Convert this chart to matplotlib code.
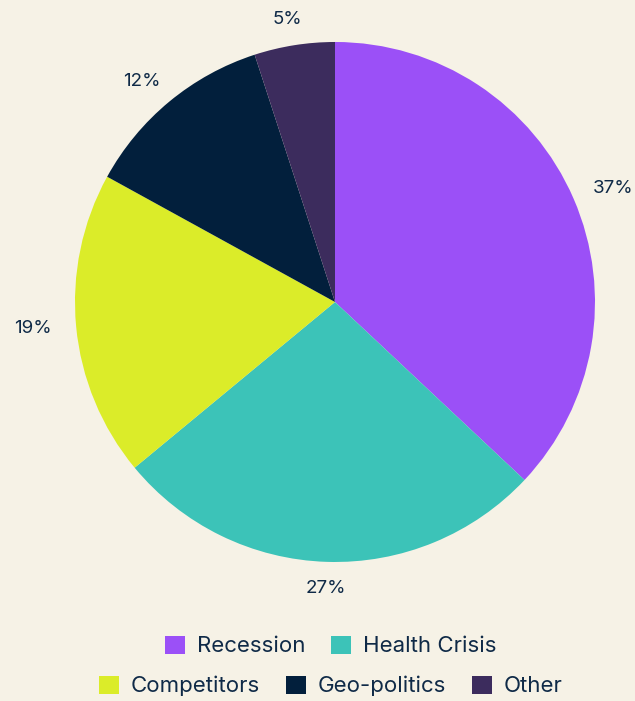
import numpy as np
import matplotlib.pyplot as plt
from matplotlib.patches import Patch

labels = ['Recession', 'Health Crisis', 'Competitors', 'Geo-politics', 'Other']
values = [37, 27, 19, 12, 5]
colors = ['#9b50f7', '#3cc3b8', '#dbec29', '#021f3c', '#3c2c5d']

bg = '#f6f2e6'
txt = '#0f2a47'
plt.rcParams['font.family'] = ['Inter', 'DejaVu Sans']

fig = plt.figure(figsize=(6.35, 7.01), dpi=100, facecolor=bg)
ax = fig.add_axes([0.1181, 0.1983, 0.8189, 0.7418])
ax.set_facecolor(bg)

wedges, _ = ax.pie(values, colors=colors, startangle=90, counterclock=False,
                   radius=1, wedgeprops=dict(linewidth=0))
ax.set_xlim(-1, 1)
ax.set_ylim(-1, 1)
ax.set_aspect('equal')
ax.axis('off')

# percentage labels just outside each slice
for w, v in zip(wedges, values):
    ang = np.deg2rad((w.theta1 + w.theta2) / 2)
    c, s = np.cos(ang), np.sin(ang)
    ax.annotate(f'{v}%', xy=(1.08 * c, 1.08 * s), xytext=(16 * c, 4 * s),
                textcoords='offset points', ha='center', va='center',
                fontsize=13.5, color=txt, annotation_clip=False)

handles = [Patch(facecolor=c, edgecolor='none', label=l) for c, l in zip(colors, labels)]
leg_kw = dict(loc='center', frameon=False, fontsize=16, labelcolor=txt,
              handlelength=0.9, handleheight=0.9, handletextpad=0.55,
              columnspacing=1.15, borderpad=0)
fig.legend(handles=handles[:2], ncol=2, bbox_to_anchor=(0.521, 0.0785), **leg_kw)
fig.legend(handles=handles[2:], ncol=3, bbox_to_anchor=(0.521, 0.0214), **leg_kw)

fig.savefig('out.png', dpi=100, facecolor=bg)
